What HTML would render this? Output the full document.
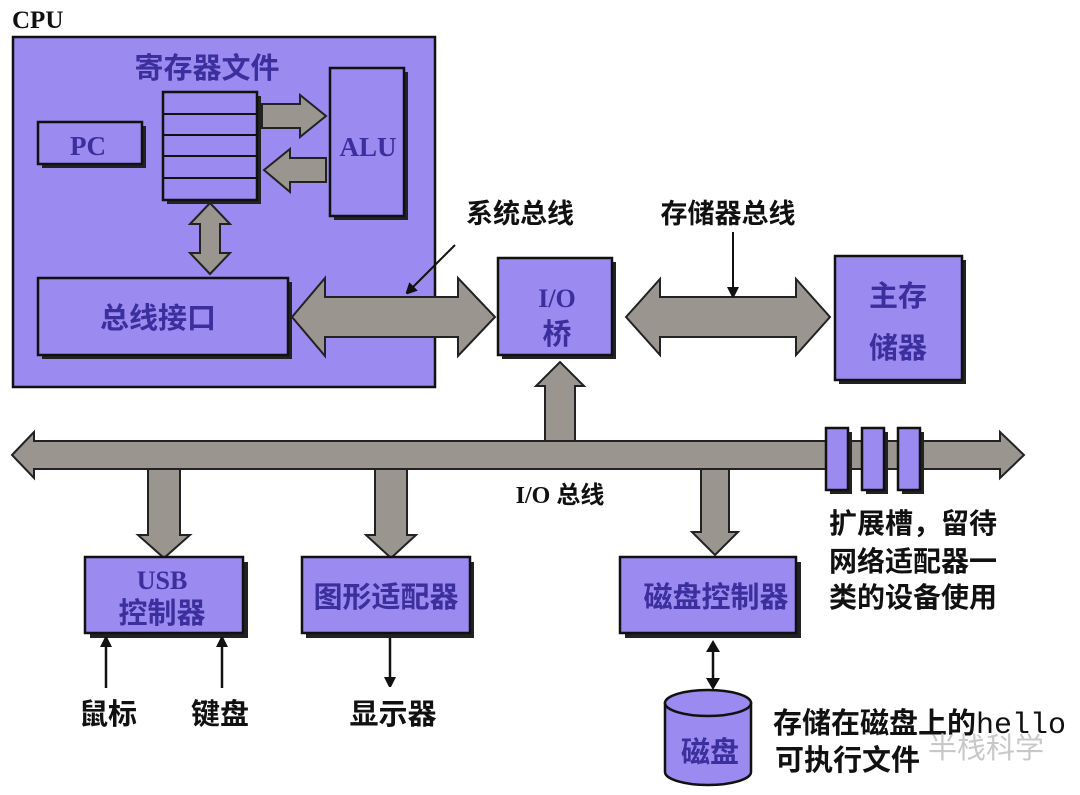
<!DOCTYPE html>
<html><head><meta charset="utf-8"><style>
html,body{margin:0;padding:0;background:#fff;}
svg{display:block;}
text{font-family:"Liberation Serif","Noto Sans CJK SC",sans-serif;font-weight:bold;}
.bt{fill:#3b2f9e;}
.k{fill:#111;}
.box{fill:#9b8aef;stroke:#111;stroke-width:2.5;}
.arr{fill:#9a958e;stroke:#222;stroke-width:2;}
</style></head><body>
<svg width="1080" height="795" viewBox="0 0 1080 795">
<defs>
<marker id="ah" markerWidth="10" markerHeight="12" refX="5" refY="6" orient="auto" markerUnits="userSpaceOnUse"><path d="M0,0 L12,6 L0,12 z" fill="#111"/></marker>
</defs>
<text x="12" y="28" font-size="25" class="k">CPU</text>
<rect x="13" y="37" width="422" height="350" class="box" stroke-width="3.5"/>
<text x="207" y="78" font-size="29" text-anchor="middle" class="bt">寄存器文件</text>
<rect x="42" y="126" width="104" height="42" fill="#222"/>
<rect x="38" y="122" width="104" height="42" class="box"/>
<text x="88" y="155" font-size="27" text-anchor="middle" class="bt">PC</text>
<rect x="167" y="96" width="94" height="108" fill="#222"/>
<rect x="163" y="92" width="94" height="108" class="box"/>
<line x1="163" y1="114" x2="257" y2="114" stroke="#111" stroke-width="2"/>
<line x1="163" y1="135" x2="257" y2="135" stroke="#111" stroke-width="2"/>
<line x1="163" y1="156" x2="257" y2="156" stroke="#111" stroke-width="2"/>
<line x1="163" y1="178" x2="257" y2="178" stroke="#111" stroke-width="2"/>
<rect x="334" y="72" width="74" height="148" fill="#222"/>
<rect x="330" y="68" width="74" height="148" class="box"/>
<text x="368" y="156" font-size="27" text-anchor="middle" class="bt">ALU</text>
<path d="M262,104 L300,104 L300,95 L326,116 L300,137 L300,128 L262,128 z" class="arr"/>
<path d="M326,158 L290,158 L290,149 L264,170 L290,192 L290,182 L326,182 z" class="arr"/>
<path d="M210,203 L230,224 L220,224 L220,253 L230,253 L210,274 L190,253 L200,253 L200,224 L190,224 z" class="arr"/>
<rect x="42" y="282" width="250" height="77" fill="#222"/>
<rect x="38" y="278" width="250" height="77" class="box"/>
<text x="158" y="328" font-size="29" text-anchor="middle" class="bt">总线接口</text>
<path d="M292,317 L325,278 L325,297 L458,297 L458,278 L495,317 L458,356 L458,337 L325,337 L325,356 z" class="arr"/>
<text x="520" y="223" font-size="27" text-anchor="middle" class="k">系统总线</text>
<line x1="455" y1="245" x2="410" y2="290" stroke="#111" stroke-width="2" marker-end="url(#ah)"/>
<rect x="502" y="262" width="114" height="97" fill="#222"/>
<rect x="498" y="258" width="114" height="97" class="box"/>
<text x="557" y="307" font-size="26" text-anchor="middle" class="bt">I/O</text>
<text x="557" y="344" font-size="29" text-anchor="middle" class="bt">桥</text>
<path d="M626,317 L660,279 L660,297 L796,297 L796,279 L830,317 L796,355 L796,337 L660,337 L660,355 z" class="arr"/>
<text x="728" y="223" font-size="27" text-anchor="middle" class="k">存储器总线</text>
<line x1="733" y1="232" x2="733" y2="292" stroke="#111" stroke-width="2" marker-end="url(#ah)"/>
<rect x="839" y="260" width="127" height="124" fill="#222"/>
<rect x="835" y="256" width="127" height="124" class="box"/>
<text x="898" y="306" font-size="29" text-anchor="middle" class="bt">主存</text>
<text x="898" y="358" font-size="29" text-anchor="middle" class="bt">储器</text>
<path d="M12,455 L34,432 L34,441 L1000,441 L1000,432 L1024,455 L1000,478 L1000,469 L34,469 L34,478 z" class="arr"/>
<path d="M545,441 L545,386 L536,386 L560,362 L584,386 L575,386 L575,441 z" class="arr"/>
<path d="M148,469 L148,535 L138,535 L164,558 L190,535 L180,535 L180,469 z" class="arr"/>
<path d="M375,469 L375,535 L366,535 L391,558 L416,535 L407,535 L407,469 z" class="arr"/>
<path d="M701,469 L701,532 L692,532 L715,555 L738,532 L729,532 L729,469 z" class="arr"/>
<rect x="830" y="432" width="22" height="62" fill="#222"/><rect x="826" y="428" width="22" height="62" class="box"/>
<rect x="866" y="432" width="22" height="62" fill="#222"/><rect x="862" y="428" width="22" height="62" class="box"/>
<rect x="902" y="432" width="22" height="62" fill="#222"/><rect x="898" y="428" width="22" height="62" class="box"/>
<text x="560" y="503" font-size="24" text-anchor="middle" class="k">I/O 总线</text>
<text x="829" y="533" font-size="28" class="k">扩展槽，留待</text>
<text x="829" y="571" font-size="28" class="k">网络适配器一</text>
<text x="829" y="607" font-size="28" class="k">类的设备使用</text>
<rect x="90" y="562" width="158" height="76" fill="#222"/>
<rect x="85" y="557" width="158" height="76" class="box"/>
<text x="162" y="589" font-size="26" text-anchor="middle" class="bt">USB</text>
<text x="162" y="623" font-size="29" text-anchor="middle" class="bt">控制器</text>
<rect x="306" y="562" width="168" height="76" fill="#222"/>
<rect x="302" y="557" width="168" height="76" class="box"/>
<text x="386" y="607" font-size="29" text-anchor="middle" class="bt">图形适配器</text>
<rect x="625" y="562" width="176" height="76" fill="#222"/>
<rect x="620" y="557" width="176" height="76" class="box"/>
<text x="716" y="607" font-size="29" text-anchor="middle" class="bt">磁盘控制器</text>
<line x1="106" y1="688" x2="106" y2="642" stroke="#111" stroke-width="2.5" marker-end="url(#ah)"/>
<line x1="222" y1="688" x2="222" y2="642" stroke="#111" stroke-width="2.5" marker-end="url(#ah)"/>
<line x1="390" y1="638" x2="390" y2="682" stroke="#111" stroke-width="2.5" marker-end="url(#ah)"/>
<line x1="713" y1="650" x2="713" y2="680" stroke="#111" stroke-width="2.5"/>
<path d="M706,652 L713,640 L720,652 z" fill="#111"/>
<path d="M706,678 L713,690 L720,678 z" fill="#111"/>
<text x="108" y="724" font-size="29" text-anchor="middle" class="k">鼠标</text>
<text x="220" y="724" font-size="29" text-anchor="middle" class="k">键盘</text>
<text x="393" y="724" font-size="29" text-anchor="middle" class="k">显示器</text>
<path d="M665,703 L665,772 A43,13 0 0 0 751,772 L751,703 z" class="box"/>
<ellipse cx="708" cy="703" rx="43" ry="13" class="box"/>
<text x="710" y="762" font-size="29" text-anchor="middle" class="bt">磁盘</text>
<text x="773" y="733" font-size="29" class="k">存储在磁盘上的<tspan style="font-family:'Liberation Mono',monospace;font-weight:normal" font-size="30">hello</tspan></text>
<text x="775" y="770" font-size="29" class="k">可执行文件</text>
<text x="928" y="758" font-size="29" fill="#c8c8c8" style="font-weight:normal">半栈科学</text>
</svg>
</body></html>
